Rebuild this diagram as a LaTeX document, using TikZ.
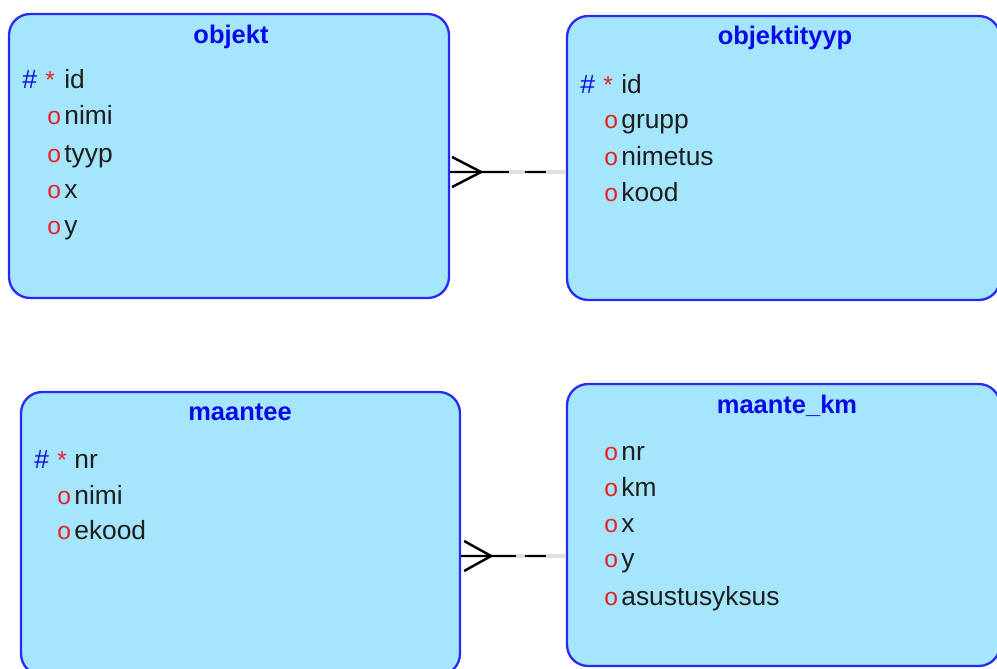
\documentclass[tikz,border=0pt]{standalone}
\usepackage{fontspec}
\setmainfont{Liberation Sans}
\usetikzlibrary{positioning, calc}
\definecolor{entfill}{HTML}{A5E6FC}
\definecolor{entline}{HTML}{2828F8}
\definecolor{titleblue}{HTML}{0A0AE6}
\definecolor{keyred}{HTML}{E8202A}
\definecolor{attrgray}{HTML}{1E1E1E}

\tikzset{
  entity/.style={draw=entline, fill=entfill, line width=1.3pt, rounded corners=0.42cm, inner sep=0pt},
  etitle/.style={text=titleblue, font=\fontsize{14.5}{16}\selectfont\bfseries, anchor=base, inner sep=0pt},
  attr/.style={text=attrgray, font=\fontsize{15}{17}\selectfont, anchor=base west, inner sep=0pt},
  pkmark/.style={text=titleblue, font=\fontsize{15}{17}\selectfont, anchor=base west, inner sep=0pt},
  optmark/.style={text=keyred, font=\fontsize{14}{16}\selectfont, anchor=base west, inner sep=0pt},
  rel/.style={line width=1.4pt, black},
  relshade/.style={line width=1.8pt, black!12},
}

\begin{document}
\begin{tikzpicture}[x=0.02cm, y=-0.02cm]
    \useasboundingbox (0,0) rectangle (997,669);
    % Entities
    \node[entity, minimum width=8.8cm, minimum height=5.68cm] (objekt) at (229,156) {};
    \node[entity, minimum width=8.66cm, minimum height=5.68cm] (objektityyp) at (783.5,158) {};
    \node[entity, minimum width=8.78cm, minimum height=5.66cm] (maantee) at (240.5,533.5) {};
    \node[entity, minimum width=8.66cm, minimum height=5.64cm] (maantekm) at (783.5,525) {};
    % Titles
    \node[etitle] (objekt-t) at (231,44) {objekt};
    \node[etitle] (objektityyp-t) at (785,45) {objektityyp};
    \node[etitle] (maantee-t) at (240,420) {maantee};
    \node[etitle] (maantekm-t) at (787,413) {maante\_km};
    % Primary keys
    \node[pkmark] (objekt-h) at (22,89) {\#};
    \node[optmark] (objekt-s) at (45,89) {*};
    \node[attr] (objekt-k) at (64,89) {id};
    \node[pkmark] (objektityyp-h) at (580,93) {\#};
    \node[optmark] (objektityyp-s) at (603,93) {*};
    \node[attr] (objektityyp-k) at (621,93) {id};
    \node[pkmark] (maantee-h) at (34,468) {\#};
    \node[optmark] (maantee-s) at (57,468) {*};
    \node[attr] (maantee-k) at (74,468) {nr};
    % Optional attributes
    \foreach \y/\name [count=\i] in {125/nimi,162/tyyp,198/x,234/y} {
        \node[optmark] (objekt-o\i) at (47,\y) {o};
        \node[attr] (objekt-a\i) at (64,\y) {\name};
    }
    \foreach \y/\name [count=\i] in {129/grupp,165/nimetus,201/kood} {
        \node[optmark] (objektityyp-o\i) at (604,\y) {o};
        \node[attr] (objektityyp-a\i) at (621,\y) {\name};
    }
    \foreach \y/\name [count=\i] in {504/nimi,539/ekood} {
        \node[optmark] (maantee-o\i) at (57,\y) {o};
        \node[attr] (maantee-a\i) at (74,\y) {\name};
    }
    \foreach \y/\name [count=\i] in {460/nr,496/km,532/x,567/y,605/asustusyksus} {
        \node[optmark] (maantekm-o\i) at (604,\y) {o};
        \node[attr] (maantekm-a\i) at (621,\y) {\name};
    }
    % Relationships (many end on the left)
    \coordinate (r1a) at (objekt.east |- 0,172);
    \coordinate (r1b) at (objektityyp.west |- 0,172);
    \coordinate (r2a) at (maantee.east |- 0,556);
    \coordinate (r2b) at (maantekm.west |- 0,556);
    \draw[relshade] (r1a) -- (r1b);
    \draw[rel] ($(r1a)+(2,-15)$) -- ($(r1a)+(31,0)$) -- ($(r1a)+(2,15)$);
    \draw[rel] (r1a) -- ($(r1a)+(59,0)$);
    \draw[rel] ($(r1b)+(-41,0)$) -- ($(r1b)+(-20,0)$);
    \draw[relshade] (r2a) -- (r2b);
    \draw[rel] ($(r2a)+(3,-15)$) -- ($(r2a)+(30,0)$) -- ($(r2a)+(3,15)$);
    \draw[rel] (r2a) -- ($(r2a)+(55,0)$);
    \draw[rel] ($(r2b)+(-41,0)$) -- ($(r2b)+(-20,0)$);
\end{tikzpicture}
\end{document}
